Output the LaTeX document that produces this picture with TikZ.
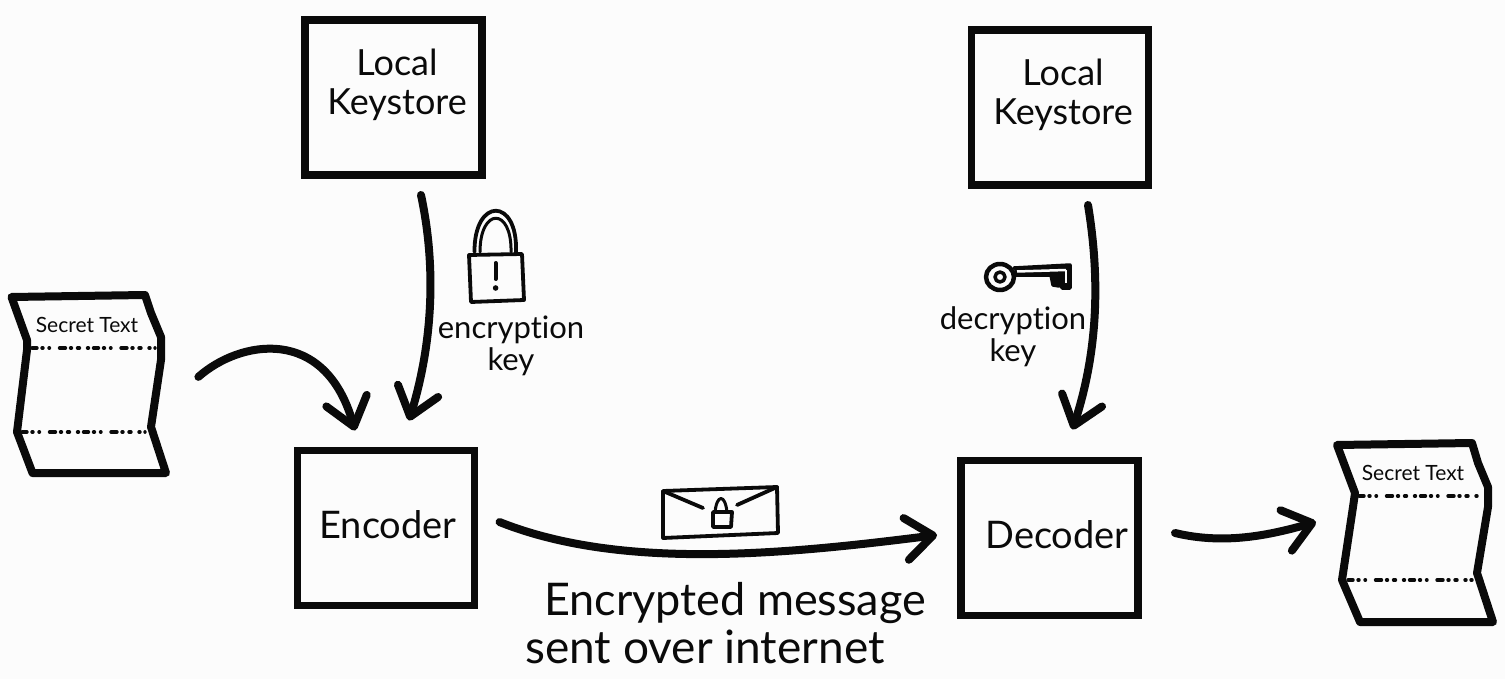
\documentclass[tikz,border=0pt]{standalone}
\usepackage{fontspec}
\setmainfont[Ligatures=NoCommon]{Lato}
\usetikzlibrary{arrows.meta}
\newcommand{\fs}[1]{\fontsize{#1}{#1}\selectfont}
\tikzset{
  x=1pt,y=-1pt,
  box/.style={draw=inkc,line width=7.5pt,minimum width=177pt,minimum height=155pt,inner sep=0pt,outer sep=0pt},
  lbl/.style={text=inkc,inner sep=0pt,align=center},
  sheet/.style={draw=inkc,line width=8pt,line join=round,fill=none},
  fold/.style={draw=inkc,line width=3.4pt,line cap=round,dash pattern=on 5pt off 5pt on 1pt off 6pt on 0.5pt off 10pt on 6pt off 5pt on 1pt off 6pt on 2pt off 8pt on 1pt off 5pt},
  flow/.style={draw=inkc,line width=8pt,line cap=round},
  tipa/.style={-{Straight Barb[length=27pt,width=42pt,line width=8pt,round]}},
  icon/.style={draw=inkc,line width=3.8pt,line join=round,line cap=round},
}
\definecolor{inkc}{HTML}{0A0A0A}
\definecolor{paperc}{HTML}{FCFCFC}
\begin{document}
\begin{tikzpicture}
\useasboundingbox[fill=paperc] (0,0) rectangle (1505,679);

% boxes
\node[box] (ksa) at (393.5,97.5) {};
\node[box] (ksb) at (1060,107.5) {};
\node[box] (enc) at (386,528) {};
\node[box] (dec) at (1049.5,538) {};

% box texts
\node[lbl,font=\fs{36}] (ksat) at (397,85) {Local\\[3pt]Keystore};
\node[lbl,font=\fs{36}] (ksbt) at (1063,95) {Local\\[3pt]Keystore};
\node[lbl,font=\fs{38}] (enct) at (388,525) {Encoder};
\node[lbl,font=\fs{38}] (dect) at (1057,535) {Decoder};

% left sheet
\draw[sheet] (11.5,297) -- (145,295) -- (151,313) -- (161,337) -- (161,360) -- (151,427) -- (166,473) -- (32.5,473) -- (17,432) -- (27,350) -- (27,340) -- cycle;
\draw[fold] (32,348) -- (155,348);
\draw[fold] (22,432) -- (145,432);
\node[lbl,font=\fs{21}] (seca) at (87,325) {Secret Text};

% right sheet
\draw[sheet] (1337,445) -- (1472,443) -- (1478,463) -- (1488,487) -- (1488,507) -- (1477,573) -- (1493,622) -- (1360,622) -- (1342,580) -- (1353,507) -- (1355,493) -- cycle;
\draw[fold] (1359,496) -- (1480,496);
\draw[fold] (1348,580) -- (1472,580);
\node[lbl,font=\fs{21}] (secb) at (1413,473) {Secret Text};

% connectors
\coordinate (outr) at (1316,522);
\draw[flow,tipa] ([shift={(60,44)}]seca.south east) .. controls (240,340) and (325,325) .. ([shift={(-31,-20)}]enc.north);
\draw[flow,tipa] ([shift={(27.5,20)}]ksa.south) .. controls (437,270) and (432,345) .. ([shift={(23,-30)}]enc.north);
\draw[flow,tipa] ([shift={(28,20)}]ksb.south) .. controls (1102,290) and (1095,360) .. ([shift={(23,-31)}]dec.north);
\draw[flow,tipa] ([shift={(25,-6)}]enc.east) .. controls (620,570) and (780,555) .. ([shift={(-24,-3)}]dec.west);
\draw[flow,tipa] ([shift={(37,-5)}]dec.east) .. controls (1225,545) and (1270,535) .. (outr);

% padlock
\draw[icon] (469,255) -- (522,254) -- (524,300) -- (471,302) -- cycle;
\draw[icon] (474.5,252) .. controls (474,197) and (518,197) .. (516,252);
\draw[icon,line width=3pt] (480,252) .. controls (480,207) and (512,207) .. (511,252);
\draw[icon,line width=4pt] (495.6,263) -- (495.6,279);
\fill[inkc] (495.6,288) circle (2.8pt);

% key
\draw[icon,line width=4.5pt] (1000,277) ellipse (14pt and 13pt);
\draw[icon,line width=3.5pt] (1000,277) circle (5pt);
\draw[icon,line width=3.5pt,fill=inkc] (1014,268) -- (1070,265) -- (1070,288) -- (1062,288) -- (1060,277) -- (1059,286) -- (1053,285) -- (1051,275) -- (1015,275);
\draw[paperc,line width=2.5pt] (1017,271.5) -- (1066,270);
\draw[paperc,line width=1.5pt] (1066,270) -- (1066,283);

% key texts
\node[lbl,font=\fs{31}] (enck) at (511,346) {encryption\\[1pt]key};
\node[lbl,font=\fs{31}] (deck) at (1013,337) {decryption\\[1pt]key};

% envelope
\draw[icon] (663,491) -- (777,487) -- (778,533) -- (663,538) -- cycle;
\draw[icon] (663,491) -- (703,508);
\draw[icon] (777,487) -- (737,505);
\draw[icon,fill=paperc,line width=3.8pt] (713,512) -- (732,512) -- (731,527) -- (713,527) -- cycle;
\draw[icon,line width=3pt] (715,512) .. controls (717,494) and (725,494) .. (727,512);

% message text
\node[lbl,font=\fs{45}] (msga) at (735,603) {Encrypted message};
\node[lbl,font=\fs{46}] (msgb) at (705,647) {sent over internet};
\end{tikzpicture}
\end{document}
